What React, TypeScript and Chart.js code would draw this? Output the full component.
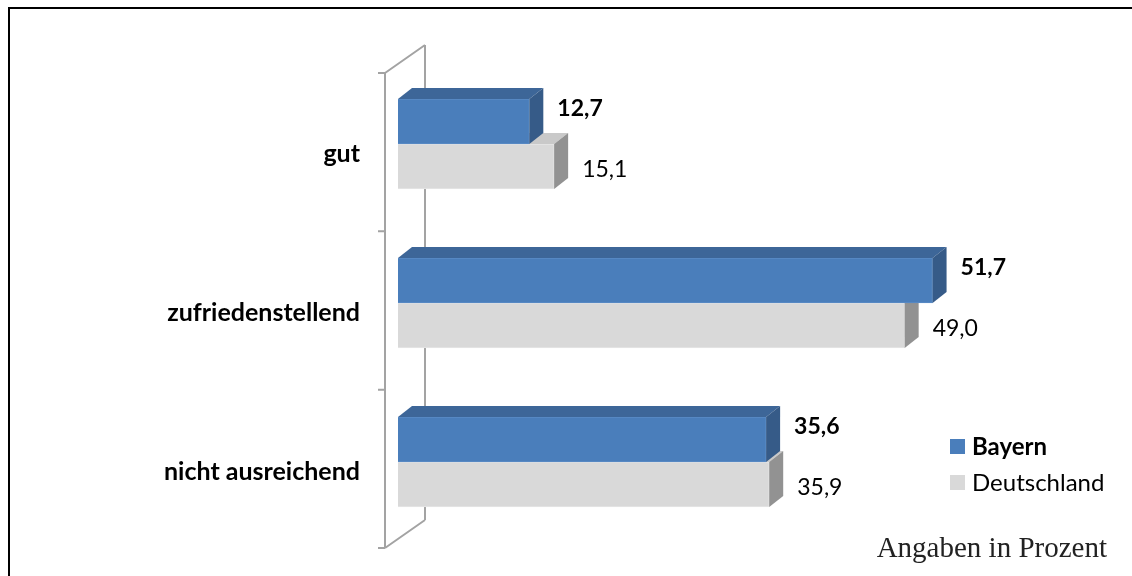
import React, { useEffect, useRef } from "react";
import { Chart, registerables } from "chart.js";

Chart.register(...registerables);

// Survey result shares, in percent
const categories = ["gut", "zufriedenstellend", "nicht ausreichend"];
const bayern = [12.7, 51.7, 35.6];
const deutschland = [15.1, 49.0, 35.9];
const seriesNames = ["Bayern", "Deutschland"];
const footnote = "Angaben in Prozent";

const SANS = "Lato, 'Noto Sans', sans-serif";
const SERIF = "'Liberation Serif', 'DejaVu Serif', serif";

// pseudo-3D extrusion of each bar
const DX = 14;
const DY = 11;

const faces = [
  { front: "#4a7ebb", top: "#3d6698", side: "#365b88", edge: "#5b8cc6" },
  { front: "#d9d9d9", top: "#c9c9c9", side: "#929292", edge: "#e6e6e6" },
];

const fmt = (v: number) => v.toFixed(1).replace(".", ",");

const polygon = (ctx: CanvasRenderingContext2D, pts: number[][], fill: string) => {
  ctx.beginPath();
  ctx.moveTo(pts[0][0], pts[0][1]);
  for (let i = 1; i < pts.length; i++) ctx.lineTo(pts[i][0], pts[i][1]);
  ctx.closePath();
  ctx.fillStyle = fill;
  ctx.fill();
};

const wallPlugin = {
  id: "wall",
  beforeDatasetsDraw(chart: any) {
    const { ctx, chartArea } = chart;
    const L = chartArea.left;
    const T = chartArea.top;
    const B = chartArea.bottom;
    const fx = L - 13;
    const bx = L + 27;
    const fTop = T + 8.5;
    const fBot = B + 6.5;
    ctx.save();
    ctx.strokeStyle = "#a3a3a3";
    ctx.lineWidth = 2;
    ctx.beginPath();
    ctx.moveTo(fx, fTop);
    ctx.lineTo(fx, fBot);
    ctx.moveTo(bx, T - 19.5);
    ctx.lineTo(bx, B - 21.5);
    ctx.moveTo(fx, fTop);
    ctx.lineTo(bx, T - 19.5);
    ctx.moveTo(fx, fBot);
    ctx.lineTo(bx, B - 21.5);
    const n = categories.length;
    for (let i = 0; i <= n; i++) {
      const y = fTop + ((fBot - fTop) * i) / n;
      ctx.moveTo(fx - 7, y);
      ctx.lineTo(fx, y);
    }
    ctx.stroke();
    ctx.restore();
  },
};

const barFacesPlugin = {
  id: "barFaces",
  afterDatasetDraw(chart: any, args: any) {
    const { ctx } = chart;
    const f = faces[args.index];
    ctx.save();
    args.meta.data.forEach((bar: any) => {
      const { x, y, base, height } = bar.getProps(["x", "y", "base", "height"], true);
      const y0 = y - height / 2;
      const y1 = y + height / 2;
      polygon(ctx, [[base, y0], [base + DX, y0 - DY], [x + DX, y0 - DY], [x, y0]], f.top);
      polygon(ctx, [[x, y0], [x + DX, y0 - DY], [x + DX, y1 - DY], [x, y1]], f.side);
    });
    ctx.restore();
  },
  afterDatasetsDraw(chart: any) {
    const { ctx } = chart;
    ctx.save();
    ctx.textBaseline = "middle";
    ctx.textAlign = "left";
    ctx.fillStyle = "#000";
    chart.data.datasets.forEach((ds: any, di: number) => {
      const meta = chart.getDatasetMeta(di);
      meta.data.forEach((bar: any, i: number) => {
        const { x, y } = bar.getProps(["x", "y"], true);
        ctx.font = di === 0 ? `bold 23px ${SANS}` : `23px ${SANS}`;
        const ty = di === 0 ? y - 13 : y + 3;
        ctx.fillText(fmt(ds.data[i]), x + 28, ty);
      });
    });
    ctx.restore();
  },
  afterDraw(chart: any) {
    const { ctx } = chart;
    ctx.save();
    ctx.textBaseline = "middle";
    ctx.textAlign = "left";
    ctx.fillStyle = "#000";
    const rows = [447, 483];
    seriesNames.forEach((name, i) => {
      ctx.fillStyle = faces[i].front;
      ctx.fillRect(950, rows[i] - 8, 15, 15);
      ctx.fillStyle = "#000";
      ctx.font = i === 0 ? `bold 24px ${SANS}` : `24px ${SANS}`;
      ctx.fillText(name, 972, rows[i]);
    });
    ctx.font = `29px ${SERIF}`;
    ctx.fillStyle = "#222";
    ctx.textAlign = "right";
    ctx.textBaseline = "alphabetic";
    ctx.fillText(footnote, 1107, 557);
    ctx.restore();
  },
};

export default function App() {
  const canvasRef = useRef<HTMLCanvasElement | null>(null);

  useEffect(() => {
    const canvas = canvasRef.current;
    if (!canvas) return;
    const chart = new Chart(canvas, {
      type: "bar",
      data: {
        labels: categories,
        datasets: [
          {
            label: seriesNames[0],
            data: bayern,
            backgroundColor: faces[0].front,
            borderColor: faces[0].edge,
            borderWidth: 1,
            barThickness: 45,
          },
          {
            label: seriesNames[1],
            data: deutschland,
            backgroundColor: faces[1].front,
            borderColor: faces[1].edge,
            borderWidth: 1,
            barThickness: 45,
          },
        ],
      },
      options: {
        indexAxis: "y",
        responsive: false,
        animation: false,
        devicePixelRatio: 1,
        layout: { padding: { left: 0, top: 64.5, bottom: 34.5, right: 113.6 } },
        plugins: {
          legend: { display: false },
          tooltip: { enabled: false },
        },
        scales: {
          x: { display: false, min: 0, max: 60 },
          y: {
            grid: { display: false, drawTicks: false },
            border: { display: false },
            afterFit: (scale: any) => {
              scale.width = 398;
              scale.paddingTop = 0;
              scale.paddingBottom = 0;
            },
            ticks: {
              color: "#000",
              padding: 38,
              labelOffset: 10,
              font: { family: SANS, size: 25, weight: "bold" },
            },
          },
        },
      },
      plugins: [wallPlugin, barFacesPlugin],
    });
    return () => chart.destroy();
  }, []);

  return (
    <>
      <div
        style={{
          position: "fixed",
          left: 8,
          top: 7,
          width: 1140,
          height: 580,
          borderLeft: "2px solid #000",
          borderTop: "2px solid #000",
          pointerEvents: "none",
        }}
      />
      <canvas
        ref={canvasRef}
        width={1132}
        height={576}
        style={{ position: "fixed", left: 0, top: 0, width: 1132, height: 576 }}
      />
    </>
  );
}
